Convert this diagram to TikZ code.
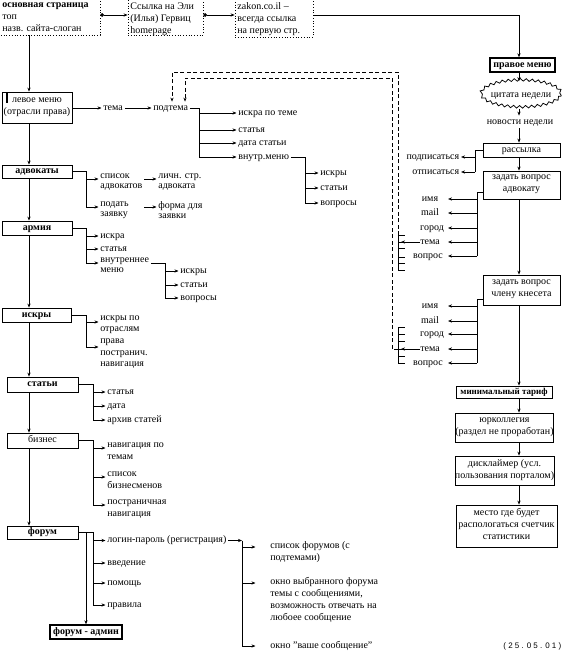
\documentclass[tikz,border=0pt]{standalone}
\usepackage{fontspec}
\setmainfont{Liberation Serif}
\newfontfamily\datefont{Liberation Sans}
\usetikzlibrary{arrows.meta,shapes.geometric,decorations.pathmorphing}
\newcommand\mystrut{\rule[-3.6pt]{0pt}{12pt}}
\begin{document}
\begin{tikzpicture}[x=1pt,y=-1pt,line width=0.75pt,
  every node/.style={font=\fontsize{10}{12}\selectfont, inner sep=0pt},
  arr/.style={-{Stealth[length=4pt,width=3.2pt]}},
  darr/.style={{Circle[length=3.5pt]}-{Stealth[length=4pt,width=3.2pt]}},
  bx/.style={draw, align=center, execute at begin node=\mystrut, execute at end node=\mystrut},
  bb/.style={bx, font=\fontsize{10}{12}\selectfont\bfseries},
  dbx/.style={draw, dotted},
  tl/.style={anchor=west, inner xsep=1.5pt, execute at begin node=\mystrut},
  tr/.style={anchor=east, inner xsep=1.5pt, execute at begin node=\mystrut},
  tc/.style={anchor=center, execute at begin node=\mystrut},
  tm/.style={anchor=north west, align=left, inner xsep=1.5pt, execute at begin node=\mystrut},
  tmn/.style={tm, font=\fontsize{10}{10.5}\selectfont},
  dsh/.style={dash pattern=on 4pt off 2.5pt}]
\useasboundingbox (0,0) rectangle (562,655);
\foreach \v in {29,86,93,165,172,185,199,242,305,392,398,401,448,475,477,519}
  \coordinate (X\v) at (\v,0);

% ---------- top boxes ----------
\node[dbx, minimum width=102, minimum height=40] (b1) at (49,15) {};
\node[dbx, minimum width=75, minimum height=40] (b2) at (165.5,15) {};
\node[dbx, minimum width=78, minimum height=44] (b3) at (274,15) {};
\node[tm] (b1t) at (0.5,2.5) {\textbf{основная страница}\\топ\\назв. сайта-слоган};
\node[tm] (b2t) at (128.5,2.5) {Ссылка на Эли\\(Илья) Гервиц\\homepage};
\node[tm] (b3t) at (235.5,2.5) {zakon.co.il –\\всегда ссылка\\на первую стр.};

% ---------- right column ----------
\node[bb, line width=1.4pt, minimum width=65, minimum height=14] (pm) at (522.5,65) {правое меню};
\node[draw, ellipse, decorate, decoration={snake, amplitude=1.3pt, segment length=6pt},
      minimum width=80, minimum height=27, inner xsep=-4pt, execute at begin node=\mystrut] (cit) at (521,95) {цитата недели};
\node[tc] (nov) at (520,122) {новости недели};
\node[bx, minimum width=77, minimum height=14] (ras) at (521.5,150) {рассылка};
\node[tr] (sub) at (461,157) {подписаться};
\node[tr] (uns) at (461,172) {отписаться};
\node[bx, minimum width=77, minimum height=28] (qa) at (521.5,185) {задать вопрос\\адвокату};
\node[tc] (a1) at (430,199) {имя};
\node[tc] (a2) at (430,213) {mail};
\node[tc] (a3) at (432,228) {город};
\node[tc] (a4) at (430,242) {тема};
\node[tc] (a5) at (428,256) {вопрос};
\node[bx, minimum width=77, minimum height=30] (qk) at (521.5,290) {задать вопрос\\члену кнесета};
\node[tc] (k1) at (430,306) {имя};
\node[tc] (k2) at (430,321) {mail};
\node[tc] (k3) at (432,334) {город};
\node[tc] (k4) at (430,349) {тема};
\node[tc] (k5) at (428,363) {вопрос};
\node[bb, font=\fontsize{9}{12}\selectfont\bfseries, minimum width=96, minimum height=12] (mt) at (504,392) {минимальный тариф};
\node[bx, minimum width=97, minimum height=29] (yk) at (504.5,427.5) {юрколлегия\\(раздел не проработан)};
\node[bx, minimum width=97, minimum height=29] (dk) at (504.5,470.5) {дисклаймер (усл.\\пользования порталом)};
\node[bx, minimum width=101, minimum height=42] (ms) at (506.5,526) {место где будет\\распологаться счетчик\\статистики};

% ---------- left column ----------
\node[bx, minimum width=70, minimum height=31] (lm) at (37,107.5) {левое меню\\(отрасли права)};
\fill (5.5,93.5) rectangle (7.5,103.5);
\node[tl] (tema) at (101.5,108) {тема};
\node[tl] (podt) at (151.5,108) {подтема};
\node[tl] (p1) at (236.5,113) {искра по теме};
\node[tl] (p2) at (236.5,130) {статья};
\node[tl] (p3) at (236.5,143) {дата статьи};
\node[tl] (p4) at (236.5,157) {внутр.меню};
\node[tl] (q1) at (318.5,173) {искры};
\node[tl] (q2) at (318.5,188) {статьи};
\node[tl] (q3) at (318.5,203) {вопросы};

\node[bb, minimum width=70, minimum height=13] (av) at (37,171.5) {адвокаты};
\node[tmn] (sa) at (98.5,173) {список\\адвокатов};
\node[tmn] (ls) at (156.5,173) {личн. стр.\\адвоката};
\node[tmn] (pz) at (98.5,201) {подать\\заявку};
\node[tmn] (fz) at (156.5,201) {форма для\\заявки};

\node[bb, minimum width=70, minimum height=14] (ar) at (37,228) {армия};
\node[tl] (r1) at (98.5,236) {искра};
\node[tl] (r2) at (98.5,249) {статья};
\node[tmn] (r3) at (98.5,257) {внутреннее\\меню};
\node[tl] (s1) at (178.5,271) {искры};
\node[tl] (s2) at (178.5,285) {статьи};
\node[tl] (s3) at (178.5,298) {вопросы};

\node[bb, minimum width=69, minimum height=14] (is) at (36.5,315) {искры};
\node[tm, font=\fontsize{10}{11.7}\selectfont] (it) at (98.5,315) {искры по\\отраслям\\права\\постранич.\\навигация};

\node[bb, minimum width=71, minimum height=15] (st) at (42.5,384.5) {статьи};
\node[tl] (t1) at (105.5,392) {статья};
\node[tl] (t2) at (105.5,406) {дата};
\node[tl] (t3) at (105.5,420) {архив статей};

\node[bx, minimum width=71, minimum height=15] (bz) at (42.5,440.5) {бизнес};
\node[tm] (u1) at (105.5,442) {навигация по\\темам};
\node[tm] (u2) at (105.5,471) {список\\бизнесменов};
\node[tm] (u3) at (105.5,499) {постраничная\\навигация};

\node[bb, minimum width=71, minimum height=13] (fo) at (42.5,532.5) {форум};
\node[tl] (v1) at (105.5,540.5) {логин-пароль (регистрация)};
\node[tl] (v2) at (105.5,563) {введение};
\node[tl] (v3) at (105.5,583) {помощь};
\node[tl] (v4) at (105.5,605) {правила};
\node[bb, line width=1.4pt, minimum width=72, minimum height=14] (fa) at (86,632) {форум - админ};
\node[tm] (w1) at (268.5,541) {список форумов (с\\подтемами)};
\node[tm] (w2) at (268.5,577) {окно выбранного форума\\темы с сообщениями,\\возможность отвечать на\\любоее сообщение};
\node[tl] (w3) at (268.5,646) {окно "ваше сообщение"};
\node[tl, font=\datefont\fontsize{8}{10}\selectfont] (dt) at (501.5,646) {( 2 5 . 0 5 . 0 1 )};

% ---------- helper coordinates ----------
\coordinate (saA) at ([yshift=-6pt]sa.north west);
\coordinate (lsA) at ([yshift=-6pt]ls.north west);
\coordinate (pzA) at ([yshift=-6pt]pz.north west);
\coordinate (fzA) at ([yshift=-6pt]fz.north west);
\coordinate (r3A) at ([yshift=-6pt]r3.north west);
\coordinate (itA) at ([yshift=-7pt]it.north west);
\coordinate (itB) at ([yshift=-32pt]it.north west);
\coordinate (u1A) at ([yshift=-6pt]u1.north west);
\coordinate (u2A) at ([yshift=-6pt]u2.north west);
\coordinate (u3A) at ([yshift=-6pt]u3.north west);
\coordinate (w1A) at ([yshift=-6pt,xshift=-13pt]w1.north west);
\coordinate (w2A) at ([yshift=-6pt,xshift=-13pt]w2.north west);
\coordinate (w3A) at ([xshift=-13pt]w3.west);
\coordinate (qaw) at ([yshift=-7pt]qa.west);
\coordinate (qkw) at ([yshift=-9pt]qk.west);

% ---------- top connectors ----------
\draw[darr] (b1.east) -- (b2.west);
\draw[darr] (b2.east) -- (b3.west);
\draw[arr] (b3.east) -- (X519 |- b3.east) -- (X519 |- pm.north);

% ---------- right connectors ----------
\draw[arr] (X519 |- pm.south) -- (X519 |- cit.north);
\draw[arr] (X519 |- cit.south) -- (X519 |- nov.north);
\draw[arr] (X519 |- nov.south) -- (X519 |- ras.north);
\draw[arr] (X519 |- ras.south) -- (X519 |- qa.north);
\draw[arr] (X519 |- qa.south) -- (X519 |- qk.north);
\draw[arr] (X519 |- qk.south) -- (X519 |- mt.north);
\draw[arr] (X519 |- mt.south) -- (X519 |- yk.north);
\draw[arr] (X519 |- yk.south) -- (X519 |- dk.north);
\draw[arr] (X519 |- dk.south) -- (X519 |- ms.north);

\draw (ras.west) -- (X475 |- ras.west) -- (X475 |- uns);
\draw[arr] (X475 |- sub) -- (sub.east);
\draw[arr] (X475 |- uns) -- (uns.east);

\draw (qaw) -- (X477 |- qaw) -- (X477 |- a5);
\foreach \n in {a1,a2,a3,a4,a5} \draw[arr] (X477 |- \n) -- (X448 |- \n);
\draw (qkw) -- (X477 |- qkw) -- (X477 |- k5);
\foreach \n in {k1,k2,k3,k4,k5} \draw[arr] (X477 |- \n) -- (X448 |- \n);

% combs
\draw (398,235) -- (398,270);
\foreach \y in {235,242,248,257,263,270} \draw (398,\y) -- (405,\y);
\draw[arr] (a4.west) -- (X401 |- a4);
\draw (398,327) -- (398,363);
\foreach \y in {327,334,341,349,356,363} \draw (398,\y) -- (405,\y);
\draw[arr] (k4.west) -- (X401 |- k4);

% dashed returns
\draw[dsh,arr] (398,235) -- (398,72) -- (172,72) -- (X172 |- podt.north);
\draw[dsh,arr] (398,349) -- (392,349) -- (392,78) -- (185,78) -- (X185 |- podt.north);

% ---------- left connectors ----------
\draw[arr] (X29 |- b1.south) -- (X29 |- lm.north);
\draw[arr] (lm.east |- tema) -- (tema.west);
\draw[arr] (tema.east) -- (podt.west);
\draw (podt.east) -- (X199 |- podt) -- (X199 |- p4);
\foreach \n in {p1,p2,p3,p4} \draw[arr] (X199 |- \n) -- (\n.west);
\draw (p4.east) -- (X305 |- p4) -- (X305 |- q3);
\foreach \n in {q1,q2,q3} \draw[arr] (X305 |- \n) -- (\n.west);

\draw[arr] (X29 |- lm.south) -- (X29 |- av.north);
\draw (av.east) -- (X86 |- av.east) -- (X86 |- pzA);
\draw[arr] (X86 |- saA) -- (saA);
\draw[arr] (X86 |- pzA) -- (pzA);
\draw[arr] (sa.east |- saA) -- (lsA);
\draw[arr] (sa.east |- pzA) -- (fzA);

\draw[arr] (X29 |- av.south) -- (X29 |- ar.north);
\draw (ar.east) -- (X86 |- ar.east) -- (X86 |- r3A);
\draw[arr] (X86 |- r1) -- (r1.west);
\draw[arr] (X86 |- r2) -- (r2.west);
\draw[arr] (X86 |- r3A) -- (r3A);
\draw (r3.east |- r3A) -- (X165 |- r3A) -- (X165 |- s3);
\foreach \n in {s1,s2,s3} \draw[arr] (X165 |- \n) -- (\n.west);

\draw[arr] (X29 |- ar.south) -- (X29 |- is.north);
\draw (is.east) -- (X86 |- is.east) -- (X86 |- itB);
\draw[arr] (X86 |- itA) -- (itA);
\draw[arr] (X86 |- itB) -- (itB);

\draw[arr] (X29 |- is.south) -- (X29 |- st.north);
\draw (st.east) -- (X93 |- st.east) -- (X93 |- t3);
\foreach \n in {t1,t2,t3} \draw[arr] (X93 |- \n) -- (\n.west);

\draw[arr] (X29 |- st.south) -- (X29 |- bz.north);
\draw (bz.east) -- (X93 |- bz.east) -- (X93 |- u3A);
\foreach \n in {u1A,u2A,u3A} \draw[arr] (X93 |- \n) -- (\n);

\draw[arr] (X29 |- bz.south) -- (X29 |- fo.north);
\draw (fo.east) -- (X93 |- fo.east) -- (X93 |- v4);
\foreach \n in {v1,v2,v3,v4} \draw[arr] (X93 |- \n) -- (\n.west);
\draw[arr] (X86 |- fo.east) -- (X86 |- fa.north);

\draw[arr] (v1.east) -- (X242 |- v1);
\draw (X242 |- v1) -- (X242 |- w3A);
\foreach \n in {w1A,w2A,w3A} \draw[arr] (X242 |- \n) -- (\n);
\end{tikzpicture}
\end{document}
